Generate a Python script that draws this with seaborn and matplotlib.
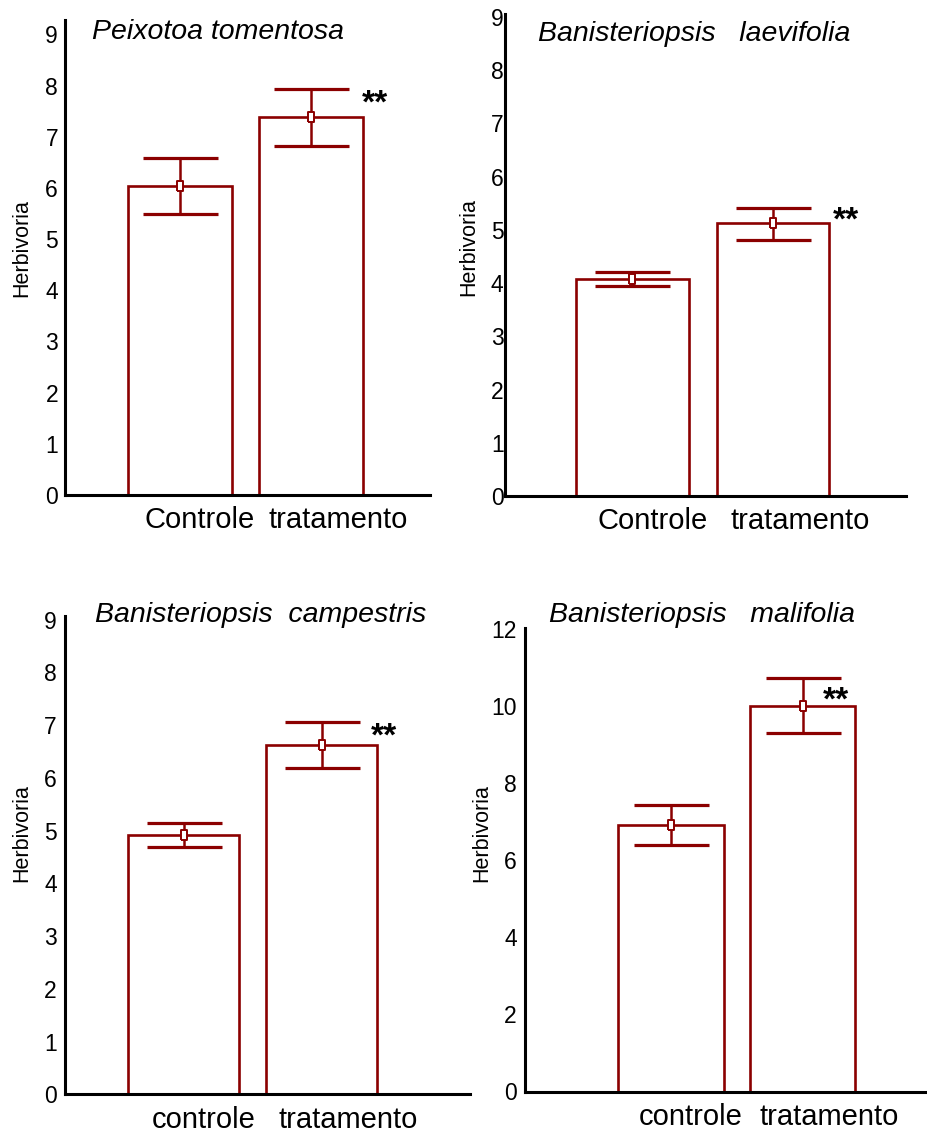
import matplotlib
matplotlib.use("Agg")
import matplotlib.pyplot as plt
import matplotlib.transforms as mtransforms
import seaborn as sns
import pandas as pd

# ---------------- data ----------------
titles = ["Peixotoa tomentosa", "Banisteriopsis   laevifolia",
          "Banisteriopsis  campestris", "Banisteriopsis   malifolia"]
cats_top = ["Controle", "tratamento"]
cats_bottom = ["controle", "tratamento"]

mean_tomentosa = [6.03, 7.38]
low_tomentosa = [5.49, 6.82]
high_tomentosa = [6.58, 7.93]

mean_laevifolia = [4.08, 5.12]
low_laevifolia = [3.95, 4.81]
high_laevifolia = [4.21, 5.42]

mean_campestris = [4.92, 6.62]
low_campestris = [4.69, 6.18]
high_campestris = [5.14, 7.06]

mean_malifolia = [6.90, 10.0]
low_malifolia = [6.40, 9.30]
high_malifolia = [7.42, 10.72]

yticks_9 = [0, 1, 2, 3, 4, 5, 6, 7, 8, 9]
yticks_12 = [0, 2, 4, 6, 8, 10, 12]
signif = "**"
ylabel = "Herbivoria"

# ---------------- style ----------------
sns.set_style("ticks")
plt.rcParams["font.family"] = ["Liberation Sans", "DejaVu Sans"]
plt.rcParams["text.color"] = "black"
plt.rcParams["axes.labelcolor"] = "black"
plt.rcParams["xtick.color"] = "black"
plt.rcParams["ytick.color"] = "black"
RED = "#8B0000"
W, H = 928, 1137
rect_marker = [(-0.65, -1), (0.65, -1), (0.65, 1), (-0.65, 1), (-0.65, -1)]

fig = plt.figure(figsize=(W / 100, H / 100), dpi=100)


def add_axes(l, t, r, b):
    return fig.add_axes([l / W, 1 - b / H, (r - l) / W, (b - t) / H])


panels = [
    dict(rect=(65, 19.6, 430, 495), cats=cats_top, mean=mean_tomentosa,
         low=low_tomentosa, high=high_tomentosa, ylim=(0, 9.29), yt=yticks_9,
         xlim=(-0.878, 1.908), ypad=5, title_xy=(218, 32), star_xy=(375, 94),
         ylab_xy=(22, 248)),
    dict(rect=(505, 14.3, 906, 496), cats=cats_top, mean=mean_laevifolia,
         low=low_laevifolia, high=high_laevifolia, ylim=(0, 9.05), yt=yticks_9,
         xlim=(-0.907, 1.947), ypad=1, title_xy=(694, 34), star_xy=(846, 211),
         ylab_xy=(469, 247)),
    dict(rect=(65, 615.5, 470, 1094.4), cats=cats_bottom, mean=mean_campestris,
         low=low_campestris, high=high_campestris, ylim=(0, 9.08), yt=yticks_9,
         xlim=(-0.859, 2.076), ypad=6, title_xy=(261, 615), star_xy=(384, 727),
         ylab_xy=(22, 833)),
    dict(rect=(525, 628, 928, 1091.5), cats=cats_bottom, mean=mean_malifolia,
         low=low_malifolia, high=high_malifolia, ylim=(0, 12.02), yt=yticks_12,
         xlim=(-1.11, 1.954), ypad=6, title_xy=(702, 615), star_xy=(836, 691),
         ylab_xy=(482, 833)),
]

for p, title in zip(panels, titles):
    ax = add_axes(*p["rect"])
    df = pd.DataFrame({"grupo": p["cats"], "valor": p["mean"]})
    sns.barplot(data=df, x="grupo", y="valor", ax=ax, color="white",
                saturation=1, edgecolor=RED, linewidth=1.9, width=0.8,
                errorbar=None, zorder=2)
    xs = list(range(len(p["mean"])))
    yerr = [[m - lo for m, lo in zip(p["mean"], p["low"])],
            [hi - m for m, hi in zip(p["mean"], p["high"])]]
    ax.errorbar(xs, p["mean"], yerr=yerr, fmt="none", ecolor=RED,
                elinewidth=1.8, capsize=27, capthick=2.3, zorder=3)
    ax.plot(xs, p["mean"], linestyle="none", marker=rect_marker,
            markersize=7, markerfacecolor="white", markeredgecolor=RED,
            markeredgewidth=1.4, zorder=4)
    ax.set_xlim(*p["xlim"])
    ax.set_ylim(*p["ylim"])
    ax.set_yticks(p["yt"])
    ax.set_xlabel("")
    ax.set_ylabel("")
    sns.despine(ax=ax)
    for s in ("left", "bottom"):
        ax.spines[s].set_linewidth(2.2)
        ax.spines[s].set_color("black")
    ax.tick_params(axis="y", length=0, pad=p["ypad"], labelsize=16.5,
                   labelcolor="black")
    ax.tick_params(axis="x", direction="in", length=4, width=1.2, pad=8,
                   labelsize=21, labelcolor="black")
    # labels in the original sit a bit to the right of the bar centres
    for lab, dx in zip(ax.get_xticklabels(), (20, 27)):
        lab.set_transform(lab.get_transform() +
                          mtransforms.ScaledTranslation(dx / 100, 0, fig.dpi_scale_trans))
    ax.patch.set_alpha(0)

    tx, ty = p["title_xy"]
    fig.text(tx / W, 1 - ty / H, title, fontsize=20.5, style="italic",
             ha="center", va="center", color="black")
    sx, sy = p["star_xy"]
    fig.text(sx / W, 1 - (sy + 19) / H, signif, fontsize=24,
             fontweight="bold", ha="center", va="baseline", color="black")
    lx, ly = p["ylab_xy"]
    fig.text(lx / W, 1 - ly / H, ylabel, fontsize=15.5, rotation=90,
             ha="center", va="center", color="black")

fig.savefig("out.png", dpi=100)
